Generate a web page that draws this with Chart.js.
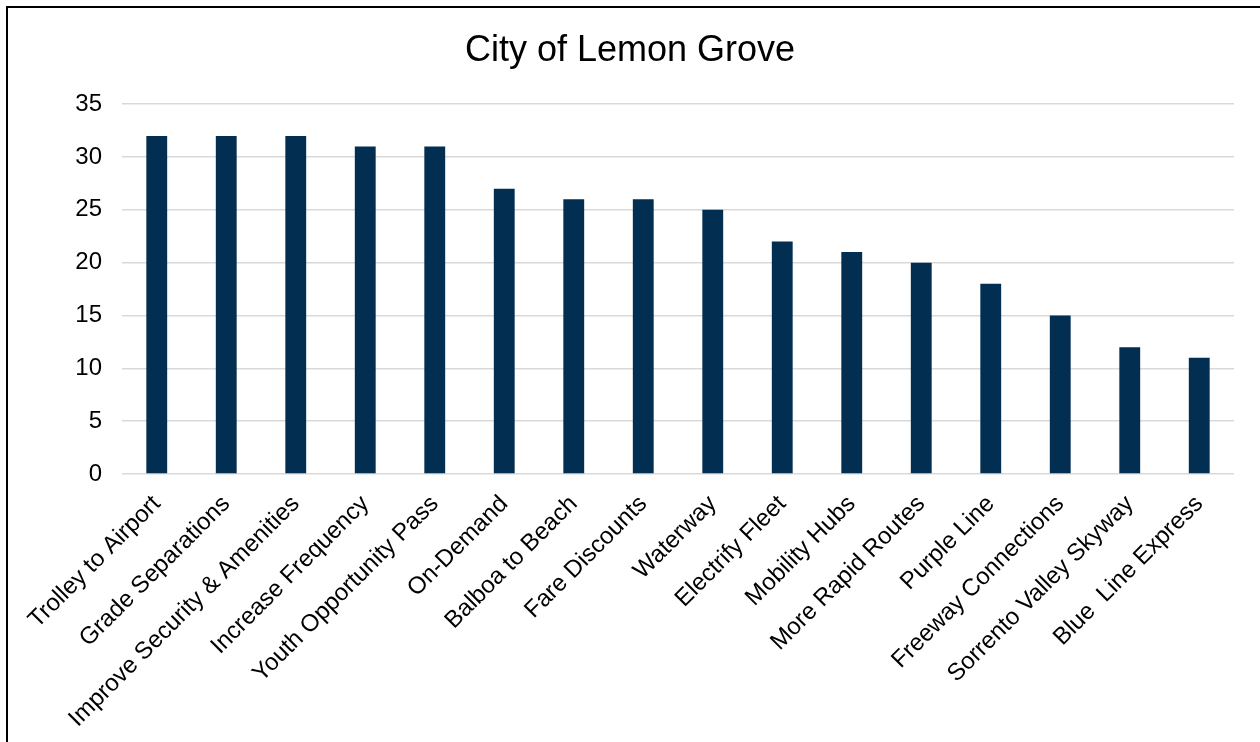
<!DOCTYPE html>
<html>
<head>
<meta charset="utf-8">
<script src="https://cdn.jsdelivr.net/npm/chart.js@4/dist/chart.umd.min.js"></script>
<style>
  html, body { margin: 0; padding: 0; background: #fff; overflow: hidden; }
  #frame {
    position: absolute; left: 6px; top: 6px;
    width: 1400px; height: 900px;
    border: 2px solid #000;
  }
  #wrap { position: absolute; left: 0; top: 0; width: 1260px; height: 742px; }
</style>
</head>
<body>
<div id="frame"></div>
<div id="wrap"><canvas id="myChart"></canvas></div>
<script>
const ctx = document.getElementById("myChart");

const categories = [
  "Trolley to Airport", "Grade Separations", "Improve Security & Amenities",
  "Increase Frequency", "Youth Opportunity Pass", "On-Demand", "Balboa to Beach",
  "Fare Discounts", "Waterway", "Electrify Fleet", "Mobility Hubs",
  "More Rapid Routes", "Purple Line", "Freeway Connections",
  "Sorrento Valley Skyway", "Blue  Line Express"
];
const votes = [32, 32, 32, 31, 31, 27, 26, 26, 25, 22, 21, 20, 18, 15, 12, 11];
const yTicks = [0, 5, 10, 15, 20, 25, 30, 35];

Chart.defaults.font.family = "'Liberation Sans', Arial, sans-serif";
Chart.defaults.color = "#000";

let myChart = new Chart(ctx, {
  type: "bar",
  data: {
    labels: categories,
    datasets: [
      {
        label: "City of Lemon Grove",
        data: votes,
        backgroundColor: "#022e51",
        borderWidth: 0,
        barPercentage: 0.6,
        categoryPercentage: 0.5,
      },
    ],
  },
  options: {
    responsive: true,
    maintainAspectRatio: false,
    animation: false,
    layout: { padding: { left: 26, right: 26, top: 0, bottom: 0 } },
    plugins: {
      legend: { display: false },
      tooltip: { enabled: false },
      title: {
        display: true,
        text: "City of Lemon Grove",
        color: "#000",
        font: { size: 36, weight: "normal" },
        padding: { top: 29, bottom: 32 },
      },
    },
    scales: {
      y: {
        min: 0,
        max: 35,
        afterFit: (axis) => { axis.width = 96; },
        afterBuildTicks: (axis) => { axis.ticks = yTicks.map((v) => ({ value: v })); },
        border: { display: false },
        grid: { color: "#d9d9d9", lineWidth: 1.5, drawTicks: false },
        ticks: { padding: 20, font: { size: 24 } },
      },
      x: {
        afterFit: (axis) => { axis.height = 268; },
        border: { display: false },
        grid: { display: false, drawTicks: false },
        ticks: {
          padding: 16,
          minRotation: 45,
          maxRotation: 45,
          autoSkip: false,
          font: { size: 24 },
        },
      },
    },
  },
});
</script>
</body>
</html>
